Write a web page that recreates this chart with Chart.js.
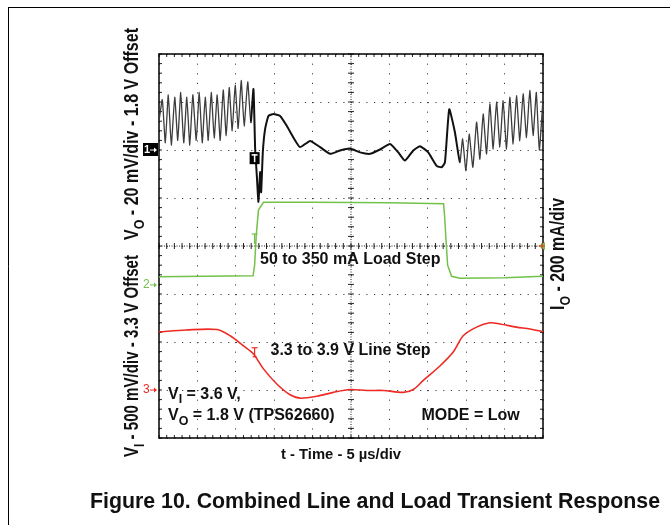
<!DOCTYPE html>
<html>
<head>
<meta charset="utf-8">
<script src="https://cdn.jsdelivr.net/npm/chart.js@4.4.1/dist/chart.umd.min.js"></script>
<style>
html, body { margin: 0; padding: 0; background: #fff; }
canvas { display: block; }
</style>
</head>
<body>
<canvas id="scope" width="670" height="525"></canvas>
<script>
// time in µs (5 µs/div), amplitude in divisions from screen centre
const voTime = [0, 0.43, 0.82, 1.21, 1.60, 2.05, 2.44, 2.83, 3.22, 3.62,
  4.01, 4.40, 4.85, 5.24, 5.63, 6.02, 6.41, 6.80, 7.19, 7.58,
  7.97, 8.36, 8.75, 9.14, 9.53, 9.92, 10.31, 10.70, 11.09, 11.55,
  11.95, 12.30, 12.52, 12.74, 12.95, 13.17, 13.30, 13.52, 13.82, 14.25,
  14.90, 15.77, 16.65, 17.50, 18.37, 19.67, 20.98, 22.28, 23.58, 24.88,
  26.18, 27.48, 28.78, 30.08, 31.16, 32.03, 33.11, 33.98, 35.06, 36.15,
  36.80, 37.23, 37.79, 38.53, 39.18, 39.53, 39.96, 40.39, 40.87, 41.35,
  41.78, 42.21, 42.65, 43.08, 43.51, 43.95, 44.38, 44.81, 45.25, 45.68,
  46.11, 46.55, 46.98, 47.41, 47.85, 48.28, 48.71, 49.13, 49.52, 50];
const voDiv = [2.6, 3.05, 2.15, 3.15, 2.10, 3.10, 2.20, 3.20, 2.15, 3.10,
  2.10, 3.15, 2.20, 3.20, 2.15, 3.10, 2.20, 3.20, 2.25, 3.15,
  2.20, 3.25, 2.30, 3.30, 2.40, 3.35, 2.45, 3.45, 2.50, 3.42,
  2.58, 3.27, 2.02, 1.46, 0.92, 1.54, 1.12, 1.96, 2.44, 2.71,
  2.75, 2.71, 2.50, 2.26, 2.06, 2.19, 2.06, 1.92, 1.99, 2.03,
  1.95, 1.92, 2.01, 2.125, 1.95, 1.78, 1.99, 2.08, 1.95, 1.67,
  1.64, 1.74, 2.85, 2.37, 1.74, 2.23, 1.57, 2.33, 1.64, 2.58,
  1.81, 2.75, 1.92, 2.96, 2.02, 3.0, 2.06, 3.03, 2.02, 3.10,
  2.125, 3.13, 2.19, 3.17, 2.26, 3.24, 2.30, 3.20, 2.0, 3.06];

const ioTime = [0, 6, 12.25, 12.45, 12.65, 12.95, 13.6, 20, 30, 37.05, 37.2, 37.36, 37.58, 38.1, 39.2, 45, 50];
const ioDiv = [-0.64, -0.63, -0.62, -0.40, 0.20, 0.75, 0.91, 0.91, 0.90, 0.88, 0.60, 0.15, -0.40, -0.63, -0.67, -0.66, -0.63];

const viTime = [0, 3.5, 7.54, 9.27, 11.00, 12.30, 13.60, 15.34, 17.07, 18.37, 20.55, 22.70, 24.88,
  27.05, 29.21, 31.81, 33.11, 34.41, 36.58, 38.31, 39.61, 41.35, 43.08, 44.38, 46.55, 48.28, 50];
const viDiv = [-1.79, -1.75, -1.74, -1.87, -2.08, -2.25, -2.56, -2.875, -3.10, -3.17, -3.13, -3.05, -2.99,
  -3.01, -3.01, -3.05, -2.99, -2.80, -2.50, -2.21, -1.87, -1.69, -1.60, -1.625, -1.69, -1.73, -1.785];

// channel reference arrows (div) and trigger marks (µs)
const chRefs = [2, -0.81, -3];
const trigTime = 12.45;
// spans where the output voltage shows switching ripple (µs)
const rippleSpans = [[0, 11.9], [39.1, 50]];

const GREEN = '#72c24a';
const RED = '#ee2a24';
const FONT = '"Liberation Sans", Arial, sans-serif';

function pts(t, v) { return t.map((x, i) => ({ x: x, y: v[i] })); }
function inRipple(c) {
    const t = c.p0.parsed.x;
    return rippleSpans.some(([a, b]) => t >= a && t < b);
}

// text with subscripts, optional rotation and squeeze to a target width
function rich(ctx, parts, x, y, o) {
    ctx.save();
    ctx.translate(x, y);
    if (o.rot) ctx.rotate(o.rot);
    const fontOf = sub => `bold ${sub ? o.size * 0.78 : o.size}px ${FONT}`;
    let total = 0;
    parts.forEach(([t, sub]) => { ctx.font = fontOf(sub); total += ctx.measureText(t).width; });
    const sx = o.width ? o.width / total : 1;
    ctx.scale(sx, 1);
    ctx.fillStyle = o.color || '#111';
    ctx.textBaseline = 'alphabetic';
    let cur = o.align === 'center' ? -total / 2 : 0;
    parts.forEach(([t, sub]) => {
        ctx.font = fontOf(sub);
        ctx.fillText(t, cur, sub ? o.size * 0.3 : 0);
        cur += ctx.measureText(t).width;
    });
    ctx.restore();
}

function seg(ctx, x1, y1, x2, y2) {
    ctx.beginPath(); ctx.moveTo(x1, y1); ctx.lineTo(x2, y2); ctx.stroke();
}

const scopeDecor = {
    id: 'scopeDecor',
    beforeDatasetsDraw(chart) {
        const { ctx, chartArea: a, scales: { x, y } } = chart;
        ctx.save();
        ctx.strokeStyle = '#222';
        ctx.lineWidth = 1;
        const cx = x.getPixelForValue(25), cy = y.getPixelForValue(0);
        ctx.setLineDash([1, 1.5]);
        seg(ctx, cx, a.top, cx, a.bottom);
        seg(ctx, a.left, cy, a.right, cy);
        ctx.setLineDash([]);
        for (let v = -4; v <= 4.001; v += 0.2) {
            const py = y.getPixelForValue(v);
            seg(ctx, cx - 3, py, cx + 3, py);
            seg(ctx, a.left, py, a.left + 3, py);
            seg(ctx, a.right - 3, py, a.right, py);
        }
        for (let t = 0; t <= 50.001; t += 1) {
            const px = x.getPixelForValue(t);
            seg(ctx, px, cy - 3, px, cy + 3);
            seg(ctx, px, a.top, px, a.top + 3);
            seg(ctx, px, a.bottom - 3, px, a.bottom);
        }
        ctx.lineWidth = 1.5;
        ctx.strokeStyle = '#000';
        ctx.strokeRect(a.left, a.top, a.width, a.height);
        ctx.restore();
    },
    afterDraw(chart) {
        const { ctx, chartArea: a, scales: { x, y } } = chart;
        ctx.save();
        // outer figure border
        ctx.strokeStyle = '#000';
        ctx.lineWidth = 1;
        seg(ctx, 8.5, 7.5, 8.5, 525);
        seg(ctx, 8, 7.5, 670, 7.5);

        // channel markers
        const arrow = (px, py, col) => {
            ctx.strokeStyle = col; ctx.fillStyle = col; ctx.lineWidth = 1;
            seg(ctx, px, py, px + 6, py);
            ctx.beginPath(); ctx.moveTo(px + 7, py); ctx.lineTo(px + 4, py - 2.5); ctx.lineTo(px + 4, py + 2.5); ctx.fill();
        };
        const p1 = y.getPixelForValue(chRefs[0]);
        ctx.fillStyle = '#000';
        ctx.fillRect(a.left - 16, p1 - 7, 15, 13);
        ctx.fillStyle = '#fff';
        ctx.font = `bold 11px ${FONT}`;
        ctx.textBaseline = 'middle';
        ctx.fillText('1', a.left - 15, p1);
        arrow(a.left - 9, p1, '#fff');
        const p2 = y.getPixelForValue(chRefs[1]);
        ctx.fillStyle = GREEN; ctx.font = `12px ${FONT}`;
        ctx.fillText('2', a.left - 16, p2);
        arrow(a.left - 9, p2, GREEN);
        const p3 = y.getPixelForValue(chRefs[2]);
        ctx.fillStyle = RED;
        ctx.fillText('3', a.left - 16, p3);
        arrow(a.left - 9, p3, RED);

        // trigger marks
        const tx = x.getPixelForValue(trigTime);
        const b = y.getPixelForValue(1.83);
        ctx.fillStyle = '#000';
        ctx.fillRect(tx - 5, b - 6, 10, 12);
        ctx.fillStyle = '#fff';
        ctx.fillRect(tx - 3, b - 4, 6, 1.5);
        ctx.fillRect(tx - 0.75, b - 4, 1.5, 8);
        ctx.strokeStyle = GREEN; ctx.lineWidth = 1.2;
        const g = y.getPixelForValue(0.25);
        seg(ctx, tx - 3, g, tx + 3, g);
        seg(ctx, tx, g, tx, g + 10);
        ctx.strokeStyle = RED;
        const r = y.getPixelForValue(-2.12);
        seg(ctx, tx - 3, r, tx + 3, r);
        seg(ctx, tx, r, tx, r + 9);
        seg(ctx, tx - 2, r + 9, tx + 2, r + 9);

        // right edge trigger level
        const lv = y.getPixelForValue(0);
        ctx.fillStyle = GREEN;
        ctx.beginPath(); ctx.moveTo(a.right - 5, lv); ctx.lineTo(a.right + 2, lv - 4); ctx.lineTo(a.right + 2, lv + 4); ctx.fill();
        ctx.strokeStyle = RED; ctx.lineWidth = 1;
        seg(ctx, a.right - 4, lv, a.right + 2, lv);
        seg(ctx, a.right - 1, lv - 3, a.right - 1, lv + 3);

        // annotations inside the screen
        rich(ctx, [['50 to 350 mA Load Step', 0]], 260, 263.5, { size: 16 });
        rich(ctx, [['3.3 to 3.9 V Line Step', 0]], 270.5, 355, { size: 16 });
        rich(ctx, [['V', 0], ['I', 1], [' = 3.6 V,', 0]], 168, 398.5, { size: 16 });
        rich(ctx, [['V', 0], ['O', 1], [' = 1.8 V (TPS62660)', 0]], 168, 420, { size: 16 });
        rich(ctx, [['MODE = Low', 0]], 421.5, 420, { size: 16 });

        // axis titles
        rich(ctx, [['V', 0], ['I', 1], [' - 500 mV/div - 3.3 V Offset', 0]], 138, 457, { size: 19.5, rot: -Math.PI / 2, width: 202 });
        rich(ctx, [['V', 0], ['O', 1], [' - 20 mV/div - 1.8 V Offset', 0]], 138, 240, { size: 19.5, rot: -Math.PI / 2, width: 212 });
        rich(ctx, [['I', 0], ['O', 1], [' - 200 mA/div', 0]], 564, 310, { size: 19.5, rot: -Math.PI / 2, width: 112 });
        rich(ctx, [['t - Time - 5 µs/div', 0]], 341, 459, { size: 15, align: 'center', width: 120 });
        rich(ctx, [['Figure 10. Combined Line and Load Transient Response', 0]], 375, 508, { size: 22, align: 'center', width: 570 });
        ctx.restore();
    }
};

new Chart(document.getElementById('scope'), {
    type: 'line',
    data: {
        datasets: [{
            label: 'VO',
            data: pts(voTime, voDiv),
            borderColor: '#111',
            borderWidth: 1.8,
            tension: 0.15,
            segment: {
                borderColor: c => inRipple(c) ? '#3c3c3c' : '#111',
                borderWidth: c => inRipple(c) ? 1.3 : 2
            }
        }, {
            label: 'IO',
            data: pts(ioTime, ioDiv),
            borderColor: GREEN,
            borderWidth: 1.5,
            tension: 0
        }, {
            label: 'VI',
            data: pts(viTime, viDiv),
            borderColor: RED,
            borderWidth: 1.6,
            tension: 0.3
        }]
    },
    options: {
        responsive: false,
        animation: false,
        devicePixelRatio: 1,
        layout: { padding: { left: 159, right: 127, top: 54, bottom: 87 } },
        elements: { point: { radius: 0 } },
        plugins: { legend: { display: false }, tooltip: { enabled: false } },
        scales: {
            x: {
                type: 'linear', min: 0, max: 50,
                ticks: { display: false, stepSize: 5 },
                grid: { color: '#444', drawTicks: false, lineWidth: 1 },
                border: { display: false, dash: [1.2, 8.4] },
                afterFit: s => { s.height = 0; }
            },
            y: {
                type: 'linear', min: -4, max: 4,
                ticks: { display: false, stepSize: 1 },
                grid: { color: '#444', drawTicks: false, lineWidth: 1 },
                border: { display: false, dash: [1.2, 6.48] },
                afterFit: s => { s.width = 0; }
            }
        }
    },
    plugins: [scopeDecor]
});
</script>
</body>
</html>
